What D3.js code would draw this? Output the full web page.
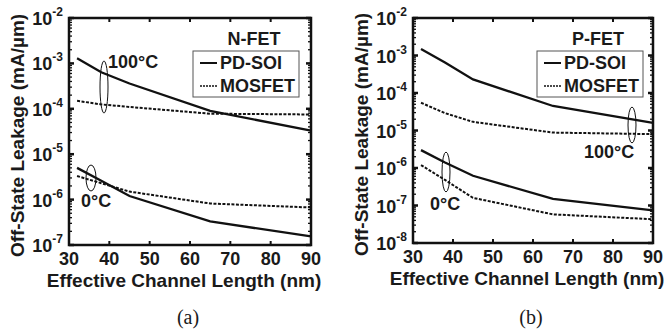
<!DOCTYPE html>
<html>
<head>
<meta charset="utf-8">
<script src="https://cdn.jsdelivr.net/npm/d3@7"></script>
<style>
  body { margin: 0; background: #fff; }
  svg { display: block; }
  text { font-family: "Liberation Sans", Arial, sans-serif; font-weight: bold; fill: #1a1a1a; }
</style>
</head>
<body>
<svg id="chart" width="667" height="335"></svg>
<script>
const lengths = [32, 38, 45, 65, 90];

// N-FET (a)
const nSoi100 = [1.3e-3, 6.4e-4, 3.6e-4, 9e-5, 3.3e-5];
const nMos100 = [1.5e-4, 1.25e-4, 1.1e-4, 7.8e-5, 7.5e-5];
const nSoi0 = [5e-6, 2.6e-6, 1.2e-6, 3.3e-7, 1.55e-7];
const nMos0 = [3.3e-6, 2.3e-6, 1.5e-6, 8.2e-7, 6.7e-7];

// P-FET (b)
const pSoi100 = [1.5e-3, 6.5e-4, 2.3e-4, 4.5e-5, 1.6e-5];
const pMos100 = [5.5e-5, 2.9e-5, 1.7e-5, 8.8e-6, 8e-6];
const pSoi0 = [3e-6, 1.4e-6, 6.2e-7, 1.5e-7, 7.4e-8];
const pMos0 = [1.2e-6, 4.8e-7, 1.6e-7, 5.8e-8, 4.3e-8];

const xTicks = [30, 40, 50, 60, 70, 80, 90];
const seriesNames = ['PD-SOI', 'MOSFET'];

const svg = d3.select('#chart');

function expLabel(g, x, y, exp) {
  const t = g.append('text').attr('x', x).attr('y', y).attr('text-anchor', 'end');
  t.append('tspan').style('font-size', '18px').text('10');
  t.append('tspan').style('font-size', '12px').attr('dy', -9).text(exp);
}

function drawPanel(p) {
  const g = svg.append('g');
  const x = d3.scaleLinear().domain([30, 90]).range([p.left, p.right]);
  const y = d3.scaleLog().domain(p.yDomain).range([p.bottom, p.top]);

  const lo = Math.round(Math.log10(p.yDomain[0]));
  const hi = Math.round(Math.log10(p.yDomain[1]));

  // minor and major y ticks, left and right, pointing inward
  for (let e = lo; e <= hi; e++) {
    [p.left, p.right].forEach((ax) => {
      const dir = ax === p.left ? 1 : -1;
      g.append('line')
        .attr('x1', ax).attr('x2', ax + dir * 5)
        .attr('y1', y(Math.pow(10, e))).attr('y2', y(Math.pow(10, e)))
        .attr('stroke', '#111').attr('stroke-width', 2.5);
      if (e < hi) {
        for (let m = 2; m <= 9; m++) {
          const yy = y(m * Math.pow(10, e));
          g.append('line')
            .attr('x1', ax).attr('x2', ax + dir * 3)
            .attr('y1', yy).attr('y2', yy)
            .attr('stroke', '#111').attr('stroke-width', 1.3);
        }
      }
    });
    expLabel(g, p.left - 6, y(Math.pow(10, e)) + 7, '-' + (-e));
  }

  // x ticks top and bottom
  xTicks.forEach((v) => {
    if (v > 30 && v < 90) {
      g.append('line').attr('x1', x(v)).attr('x2', x(v)).attr('y1', p.bottom).attr('y2', p.bottom - 4)
        .attr('stroke', '#111').attr('stroke-width', 2);
      g.append('line').attr('x1', x(v)).attr('x2', x(v)).attr('y1', p.top).attr('y2', p.top + 4)
        .attr('stroke', '#111').attr('stroke-width', 2);
    }
    g.append('text').attr('x', x(v)).attr('y', p.bottom + 20).attr('text-anchor', 'middle')
      .style('font-size', '18px').text(v);
  });

  // frame
  g.append('rect')
    .attr('x', p.left).attr('y', p.top)
    .attr('width', p.right - p.left).attr('height', p.bottom - p.top)
    .attr('fill', 'none').attr('stroke', '#111').attr('stroke-width', 2.5);

  const line = d3.line().x((d) => x(d[0])).y((d) => y(d[1]));
  const series = [
    [p.soi100, false], [p.mos100, true], [p.soi0, false], [p.mos0, true],
  ];
  series.forEach(([vals, dashed]) => {
    g.append('path')
      .datum(lengths.map((l, i) => [l, vals[i]]))
      .attr('d', line)
      .attr('fill', 'none')
      .attr('stroke', '#111')
      .attr('stroke-width', dashed ? 2 : 2.3)
      .attr('stroke-dasharray', dashed ? '3,1.5' : null);
  });

  // temperature ellipses and labels
  p.marks.forEach((m) => {
    g.append('ellipse').attr('cx', m.cx).attr('cy', m.cy).attr('rx', m.rx).attr('ry', m.ry)
      .attr('fill', 'none').attr('stroke', '#111').attr('stroke-width', 1);
    g.append('text').attr('x', m.tx).attr('y', m.ty).style('font-size', '18px').text(m.label);
  });

  // legend
  g.append('text').attr('x', p.legX + p.legW / 2 + 8).attr('y', 45).attr('text-anchor', 'middle')
    .style('font-size', '18px').text(p.title);
  g.append('rect').attr('x', p.legX).attr('y', 51).attr('width', p.legW).attr('height', 46)
    .attr('fill', '#fff').attr('stroke', '#555').attr('stroke-width', 1);
  seriesNames.forEach((name, i) => {
    const ly = 63 + i * 23;
    g.append('line').attr('x1', p.legX + 7).attr('x2', p.legX + 24).attr('y1', ly).attr('y2', ly)
      .attr('stroke', '#111').attr('stroke-width', i ? 1.6 : 2)
      .attr('stroke-dasharray', i ? '2,1' : null);
    g.append('text').attr('x', p.legX + 27).attr('y', ly + 6).style('font-size', '18px').text(name);
  });

  // axis titles
  g.append('text')
    .attr('transform', `translate(${p.left - 45},${(p.top + p.bottom) / 2 + 4}) rotate(-90)`)
    .attr('text-anchor', 'middle').style('font-size', '19px')
    .text('Off-State Leakage (mA/\u00b5m)');
  g.append('text').attr('x', (p.left + p.right) / 2 - 6).attr('y', p.bottom + 42)
    .attr('text-anchor', 'middle').style('font-size', '19px').text('Effective Channel Length (nm)');
  g.append('text').attr('x', (p.left + p.right) / 2 - 2).attr('y', 324)
    .attr('text-anchor', 'middle')
    .style('font-family', '"Liberation Serif", "Times New Roman", serif')
    .style('font-weight', 'normal').style('font-size', '20px').text(p.caption);
}

drawPanel({
  left: 69, right: 311, top: 18, bottom: 245, yDomain: [1e-7, 1e-2],
  soi100: nSoi100, mos100: nMos100, soi0: nSoi0, mos0: nMos0,
  title: 'N-FET', caption: '(a)', legX: 193, legW: 106,
  marks: [
    { cx: 104, cy: 87, rx: 4, ry: 26, label: '100\u00b0C', tx: 108, ty: 68 },
    { cx: 91, cy: 178, rx: 5, ry: 13, label: '0\u00b0C', tx: 81, ty: 207 },
  ],
});

drawPanel({
  left: 413, right: 653, top: 18, bottom: 243, yDomain: [1e-8, 1e-2],
  soi100: pSoi100, mos100: pMos100, soi0: pSoi0, mos0: pMos0,
  title: 'P-FET', caption: '(b)', legX: 537, legW: 106,
  marks: [
    { cx: 632, cy: 125, rx: 4, ry: 18, label: '100\u00b0C', tx: 584, ty: 158 },
    { cx: 446, cy: 172, rx: 4, ry: 20, label: '0\u00b0C', tx: 430, ty: 210 },
  ],
});
</script>
</body>
</html>
